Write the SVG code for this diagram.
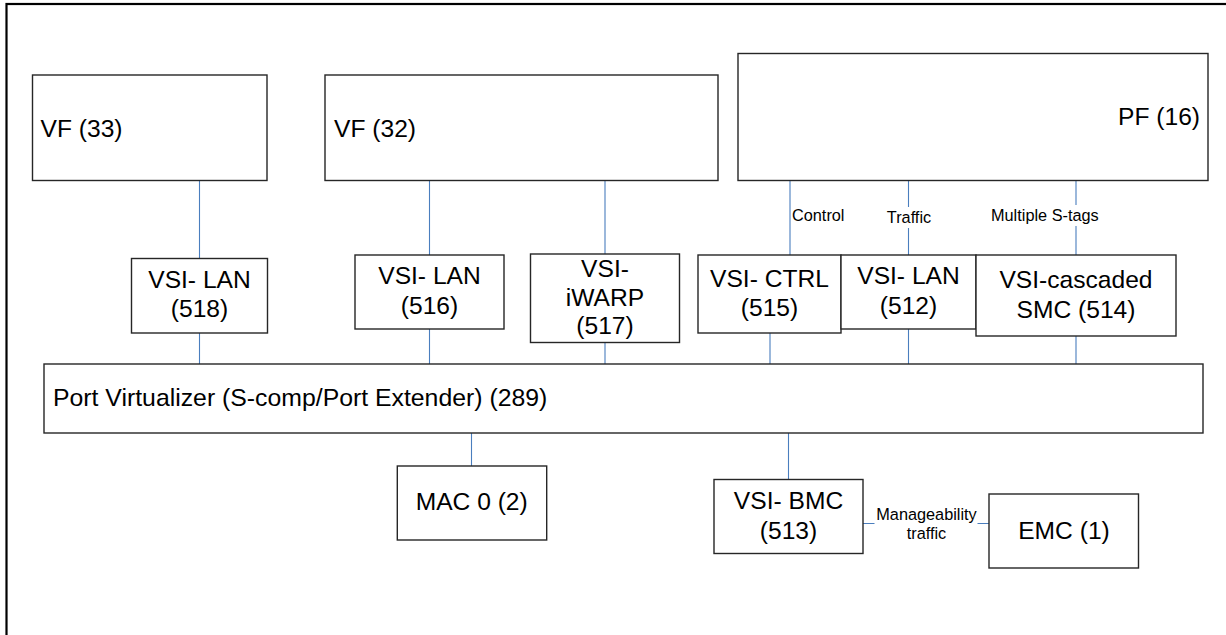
<svg xmlns="http://www.w3.org/2000/svg" width="1226" height="635" viewBox="0 0 1226 635">
<style>
.box{fill:#fff;stroke:#262626;stroke-width:1.4}
.t{font-family:"Liberation Sans",Arial,sans-serif;font-size:24.6px;fill:#000}
.c{text-anchor:middle}
.s{font-family:"Liberation Sans",Arial,sans-serif;font-size:16.3px;fill:#000}
.ln{stroke:#4A7EBE;stroke-width:1.1;fill:none}
.bg{fill:#fff;stroke:none}
</style>
<rect x="6.5" y="4" width="1240" height="700" fill="none" stroke="#000" stroke-width="2.2"/>
<g id="connectors">
<path class="ln" d="M199.5,180.5V258.5M429.5,180.5V255M605,180.5V254M790,180.5V255M908.5,180.5V255M1076,180.5V255"/>
<path class="ln" d="M199.5,333V364M429.5,329V364M605,342.5V364M770,333V364M908.5,329V364M1076,336V364"/>
<path class="ln" d="M471.5,433V466M788.5,433V479.5M863,523.5H989"/>
<text class="s" x="792" y="221">Control</text>
<rect class="bg" x="886" y="207" width="46" height="21"/>
<text class="s c" x="909" y="222.7">Traffic</text>
<rect class="bg" x="990" y="205" width="111" height="21"/>
<text class="s" x="991" y="220.7">Multiple S-tags</text>
<rect class="bg" x="874.5" y="503" width="103" height="42"/>
<text class="s c" x="926.5" y="519.5">Manageability</text>
<text class="s c" x="926.5" y="538.5">traffic</text>
</g>
<g id="vf33"><rect class="box" x="32.5" y="75" width="234.5" height="105.5"/><text class="t" x="40.5" y="136.7">VF (33)</text></g>
<g id="vf32"><rect class="box" x="325" y="75" width="393" height="105.5"/><text class="t" x="334" y="136.7">VF (32)</text></g>
<g id="pf16"><rect class="box" x="738" y="53.5" width="470" height="127"/><text class="t" x="1200" y="125" text-anchor="end">PF (16)</text></g>
<g id="vsi518"><rect class="box" x="131.5" y="258.5" width="136" height="74.5"/><text class="t c" x="199.5" y="287.5">VSI- LAN</text><text class="t c" x="199.5" y="317">(518)</text></g>
<g id="vsi516"><rect class="box" x="355" y="255" width="149" height="74"/><text class="t c" x="429.5" y="283.5">VSI- LAN</text><text class="t c" x="429.5" y="313.5">(516)</text></g>
<g id="vsi517"><rect class="box" x="530.5" y="254" width="149" height="88.5"/><text class="t c" x="605" y="277">VSI-</text><text class="t c" x="605" y="306">iWARP</text><text class="t c" x="605" y="334">(517)</text></g>
<g id="vsi515"><rect class="box" x="698" y="255" width="143" height="78"/><text class="t c" x="769.5" y="286.5">VSI- CTRL</text><text class="t c" x="769.5" y="315.5">(515)</text></g>
<g id="vsi512"><rect class="box" x="841" y="255" width="135" height="74"/><text class="t c" x="908.5" y="283.5">VSI- LAN</text><text class="t c" x="908.5" y="313.5">(512)</text></g>
<g id="vsi514"><rect class="box" x="976" y="255" width="200" height="81"/><text class="t c" x="1076" y="287.5">VSI-cascaded</text><text class="t c" x="1076" y="317.5">SMC (514)</text></g>
<g id="pv289"><rect class="box" x="44" y="364" width="1159" height="69"/><text class="t" x="53" y="405.5" style="font-size:24.8px">Port Virtualizer (S-comp/Port Extender) (289)</text></g>
<g id="mac0"><rect class="box" x="397.3" y="466" width="149.4" height="74"/><text class="t c" x="471.7" y="510">MAC 0 (2)</text></g>
<g id="vsi513"><rect class="box" x="714" y="479.5" width="149" height="74"/><text class="t c" x="788.5" y="509">VSI- BMC</text><text class="t c" x="788.5" y="538.5">(513)</text></g>
<g id="emc1"><rect class="box" x="989" y="494" width="149.5" height="74"/><text class="t c" x="1064" y="539">EMC (1)</text></g>
</svg>
